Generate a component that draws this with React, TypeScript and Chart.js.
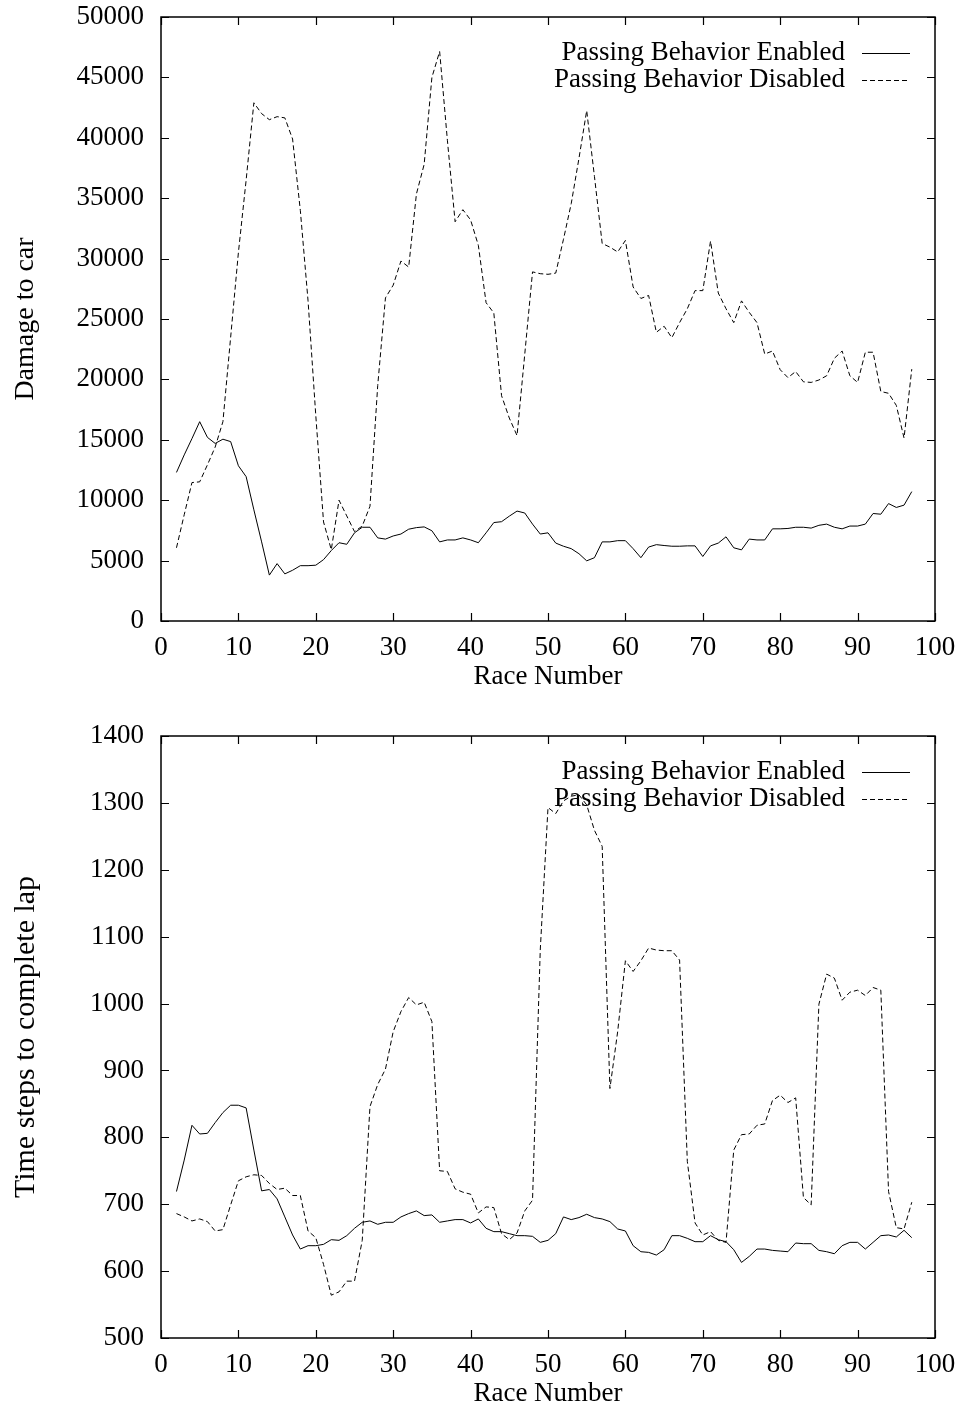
import React, { useEffect, useRef } from "react";
import { Chart, registerables } from "chart.js";

Chart.register(...registerables);

// ---------- data ----------
const races = [
  2, 3, 4, 5, 6, 7, 8, 9, 10, 11, 12, 13, 14, 15, 16, 17, 18, 19, 20, 21,
  22, 23, 24, 25, 26, 27, 28, 29, 30, 31, 32, 33, 34, 35, 36, 37, 38, 39, 40, 41,
  42, 43, 44, 45, 46, 47, 48, 49, 50, 51, 52, 53, 54, 55, 56, 57, 58, 59, 60, 61,
  62, 63, 64, 65, 66, 67, 68, 69, 70, 71, 72, 73, 74, 75, 76, 77, 78, 79, 80, 81,
  82, 83, 84, 85, 86, 87, 88, 89, 90, 91, 92, 93, 94, 95, 96, 97,
];

const damageEnabled = [
  12300, 13750, 15100, 16500, 15200, 14700, 15050, 14850, 12850, 11950,
  9200, 6550, 3800, 4750, 3900, 4200, 4580, 4580, 4620, 5080,
  5830, 6480, 6350, 7300, 7760, 7760, 6880, 6780, 7040, 7200,
  7600, 7730, 7790, 7470, 6550, 6710, 6710, 6880, 6710, 6480,
  7300, 8150, 8220, 8680, 9100, 8940, 8020, 7200, 7300,
  6450, 6190, 5990, 5570, 4980, 5240, 6550, 6550, 6650, 6650,
  5990, 5240, 6120, 6320, 6250, 6190, 6190, 6220, 6220, 5340,
  6220, 6450, 6970, 6060, 5890, 6780, 6710, 6710, 7630, 7630,
  7660, 7760, 7760, 7690, 7920, 8020, 7760, 7630, 7860, 7860,
  8020, 8900, 8840, 9720, 9400, 9590, 10710,
];

const damageDisabled = [
  6060, 8800, 11460, 11520, 12930, 14400, 16500, 23500, 30500, 36500,
  42900, 42000, 41500, 41750, 41650, 39900, 34000, 26500, 17000, 8200,
  5900, 10000, 8700, 7400, 7860, 9500, 19500, 26750, 27800, 29800,
  29300, 35350, 37800, 45000, 47150, 39800, 33050, 34050, 33200, 31100,
  26350, 25500, 18650, 16800, 15350, 22100, 28900, 28750, 28700,
  28800, 31600, 34550, 38300, 42250, 36800, 31250, 30950, 30550, 31500,
  27650, 26700, 26950, 23900, 24400, 23450, 24700, 25850, 27350, 27350,
  31450, 27150, 25850, 24700, 26500, 25550, 24700, 22100, 22350, 20800,
  20150, 20650, 19800, 19750, 19950, 20300, 21750, 22350, 20300, 19750,
  22250, 22250, 19000, 18850, 17850, 15150, 20850,
];

const lapEnabled = [
  719, 766, 818, 805, 806, 822, 837, 848, 848, 844,
  781, 720, 722, 708, 681, 654, 633, 638, 638, 640,
  647, 646, 653, 664, 673, 675, 670, 673, 673, 681,
  686, 690, 683, 684, 673, 675, 677, 677, 672, 678,
  664, 659, 659, 656, 653, 653, 652, 643, 646,
  656, 681, 677, 680, 685, 680, 678, 674, 663, 660,
  638, 629, 628, 624, 632, 653, 653, 649, 644, 644,
  653, 647, 644, 632, 613, 622, 633, 633, 631, 630,
  629, 642, 641, 641, 631, 629, 626, 638, 643, 643,
  633, 643, 653, 654, 651, 661, 650,
];

const lapDisabled = [
  686, 681, 675, 678, 674, 660, 662, 699, 735, 741,
  744, 743, 731, 722, 724, 713, 713, 660, 650, 610,
  564, 569, 585, 585, 646, 846, 879, 902, 958, 988,
  1009, 998, 1002, 973, 750, 749, 723, 718, 715, 687,
  696, 695, 656, 647, 657, 690, 706, 1080, 1293,
  1284, 1303, 1310, 1312, 1297, 1259, 1235, 873, 958, 1064,
  1048, 1064, 1083, 1080, 1079, 1079, 1065, 764, 672, 654,
  659, 646, 643, 781, 804, 805, 818, 820, 855, 863,
  852, 859, 710, 699, 999, 1044, 1038, 1005, 1017, 1020,
  1012, 1024, 1020, 719, 665, 663, 703,
];

const seriesLabels = ["Passing Behavior Enabled", "Passing Behavior Disabled"];
const xTitle = "Race Number";
const damageTitle = "Damage to car";
const lapTitle = "Time steps to complete lap";

// ---------- styling ----------
const FONT = "'Liberation Serif', 'Times New Roman', Times, serif";
const FS = 27;
const DASH = [5, 3];

const frameAndLegend = {
  id: "gnuplotFrame",
  afterDatasetsDraw(chart: any) {
    const ctx = chart.ctx;
    const { left, right, top, bottom } = chart.chartArea;
    const xs = chart.scales.x;
    const ys = chart.scales.y;
    ctx.save();
    ctx.strokeStyle = "#000";
    ctx.lineWidth = 1.5;
    ctx.setLineDash([]);
    ctx.strokeRect(left, top, right - left, bottom - top);
    ctx.lineWidth = 1.2;
    const TL = 8;
    ctx.beginPath();
    for (const t of ys.ticks) {
      const y = Math.round(ys.getPixelForValue(t.value)) + 0.5;
      ctx.moveTo(left, y);
      ctx.lineTo(left + TL, y);
      ctx.moveTo(right, y);
      ctx.lineTo(right - TL, y);
    }
    for (const t of xs.ticks) {
      const x = Math.round(xs.getPixelForValue(t.value)) + 0.5;
      ctx.moveTo(x, bottom);
      ctx.lineTo(x, bottom - TL);
      ctx.moveTo(x, top);
      ctx.lineTo(x, top + TL);
    }
    ctx.stroke();

    // legend (gnuplot style: text right aligned, sample to the right)
    ctx.font = `${FS}px ${FONT}`;
    ctx.fillStyle = "#000";
    ctx.textAlign = "right";
    ctx.textBaseline = "middle";
    chart.data.datasets.forEach((ds: any, i: number) => {
      const y = top + 36 + i * 27;
      ctx.fillText(ds.label, right - 90, y);
      ctx.beginPath();
      ctx.lineWidth = 1;
      ctx.setLineDash(ds.borderDash || []);
      ctx.moveTo(right - 73, Math.round(y) + 0.5);
      ctx.lineTo(right - 25, Math.round(y) + 0.5);
      ctx.stroke();
    });
    ctx.restore();
  },
};

function makeConfig(
  enabled: number[],
  disabled: number[],
  yMin: number,
  yMax: number,
  yStep: number,
  yTitle: string,
  yTitleSize: number,
  padTop: number
): any {
  const toPts = (arr: number[]) => races.map((r, i) => ({ x: r, y: arr[i] }));
  return {
    type: "line",
    data: {
      datasets: [
        {
          label: seriesLabels[0],
          data: toPts(enabled),
          borderColor: "#000",
          borderWidth: 1,
          pointRadius: 0,
          tension: 0,
          fill: false,
        },
        {
          label: seriesLabels[1],
          data: toPts(disabled),
          borderColor: "#000",
          borderWidth: 1,
          borderDash: DASH,
          pointRadius: 0,
          tension: 0,
          fill: false,
        },
      ],
    },
    options: {
      animation: false,
      responsive: false,
      maintainAspectRatio: false,
      devicePixelRatio: 1,
      layout: { padding: { left: 0, right: 28, top: padTop, bottom: 0 } },
      plugins: { legend: { display: false }, tooltip: { enabled: false } },
      scales: {
        x: {
          type: "linear",
          min: 0,
          max: 100,
          ticks: {
            stepSize: 10,
            color: "#000",
            font: { family: FONT, size: FS },
            padding: 11,
            maxRotation: 0,
            autoSkip: false,
          },
          grid: { display: false, drawTicks: false },
          border: { display: false },
          title: {
            display: true,
            text: xTitle,
            color: "#000",
            font: { family: FONT, size: FS, lineHeight: 1 },
            padding: 0,
          },
          afterFit: (s: any) => {
            s.height = 69;
            s.paddingLeft = 0;
            s.paddingRight = 0;
          },
        },
        y: {
          type: "linear",
          min: yMin,
          max: yMax,
          ticks: {
            stepSize: yStep,
            color: "#000",
            font: { family: FONT, size: FS },
            padding: 17,
            callback: (v: any) => String(v),
          },
          grid: { display: false, drawTicks: false },
          border: { display: false },
          title: {
            display: true,
            text: yTitle,
            color: "#000",
            font: { family: FONT, size: yTitleSize, lineHeight: 1 },
            padding: { top: 26 - yTitleSize / 2, bottom: 0 },
          },
          afterFit: (s: any) => {
            s.width = 161;
            s.paddingTop = 0;
            s.paddingBottom = 0;
          },
        },
      },
    },
    plugins: [frameAndLegend],
  };
}

function ChartCanvas(props: { config: () => any; top: number; height: number }) {
  const ref = useRef<HTMLCanvasElement | null>(null);
  useEffect(() => {
    if (!ref.current) return;
    const chart = new Chart(ref.current, props.config());
    return () => chart.destroy();
  }, []);
  return (
    <canvas
      ref={ref}
      width={963}
      height={props.height}
      style={{
        position: "absolute",
        left: 0,
        top: props.top,
        width: 963,
        height: props.height,
        display: "block",
      }}
    />
  );
}

export default function App() {
  return (
    <div
      style={{
        position: "absolute",
        left: 0,
        top: 0,
        width: 963,
        height: 1407,
        background: "#fff",
        overflow: "hidden",
      }}
    >
      <ChartCanvas
        top={0}
        height={690}
        config={() =>
          makeConfig(damageEnabled, damageDisabled, 0, 50000, 5000, damageTitle, 28, 17)
        }
      />
      <ChartCanvas
        top={690}
        height={717}
        config={() =>
          makeConfig(lapEnabled, lapDisabled, 500, 1400, 100, lapTitle, 30, 46)
        }
      />
    </div>
  );
}
